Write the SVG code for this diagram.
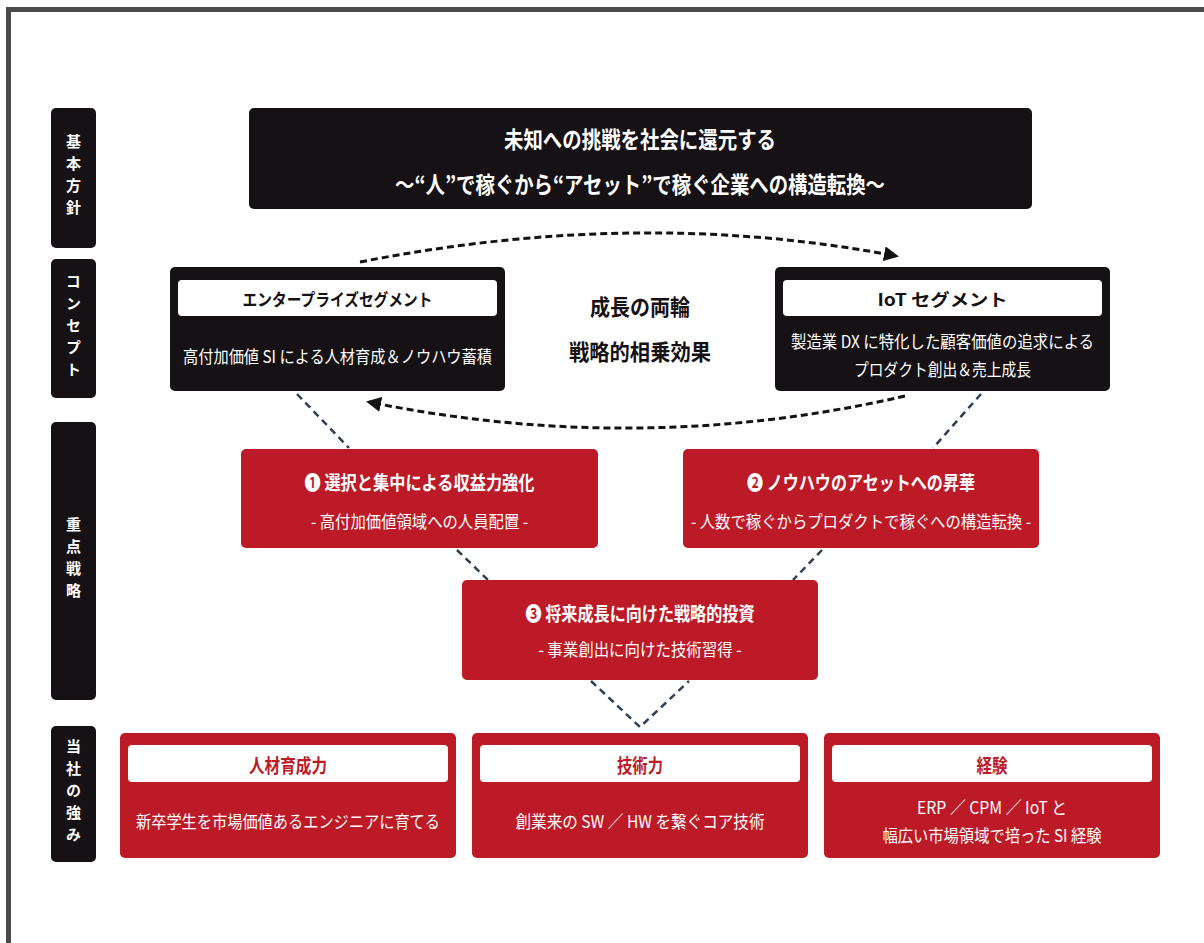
<svg xmlns="http://www.w3.org/2000/svg" width="1204" height="943" viewBox="0 0 1204 943">
<defs>
<style>
text{font-family:"Noto Sans CJK JP","Noto Sans",sans-serif;dominant-baseline:central;text-anchor:middle}
.blk{fill:#161114}
.red{fill:#bd1a27}
.wl{fill:#ffffff}
.side{fill:#ffffff;font-size:15px;font-weight:700;writing-mode:vertical-rl;letter-spacing:7px}
.t1{fill:#ffffff;font-size:23px;font-weight:700}
.seg{fill:#161114;font-size:17px;font-weight:700}
.body{fill:#ffffff;font-size:17px;font-weight:400}
.mid{fill:#161114;font-size:22px;font-weight:700}
.rt{fill:#ffffff;font-size:19px;font-weight:700}
.rs{fill:#ffffff;font-size:17px;font-weight:400}
.st{fill:#bd1a27;font-size:19px;font-weight:700}
.arr{fill:none;stroke:#161114;stroke-width:3;stroke-dasharray:7 4}
.blue{fill:none;stroke:#2b3f55;stroke-width:2.5;stroke-dasharray:7 5}
</style>
<marker id="ah" viewBox="0 0 10 10" refX="8" refY="5" markerWidth="5" markerHeight="5" orient="auto" markerUnits="strokeWidth">
<path d="M0,0 L10,5 L0,10 z" fill="#161114"/>
</marker>
</defs>
<rect x="0" y="0" width="1204" height="943" fill="#ffffff"/>
<path d="M8.5,943 V9.5 H1204" fill="none" stroke="#4a4a4a" stroke-width="5"/>

<g id="side-labels">
<g id="label-kihon"><rect class="blk" x="51" y="108" width="45" height="140" rx="5"/><text class="side" x="73.5" y="178">基本方針</text></g>
<g id="label-concept"><rect class="blk" x="51" y="259" width="45" height="139" rx="5"/><text class="side" x="73.5" y="328.5">コンセプト</text></g>
<g id="label-juten"><rect class="blk" x="51" y="422" width="45" height="278" rx="5"/><text class="side" x="73.5" y="561">重点戦略</text></g>
<g id="label-tsuyomi"><rect class="blk" x="51" y="726" width="45" height="136" rx="5"/><text class="side" x="73.5" y="794">当社の強み</text></g>
</g>

<g id="connectors">
<path class="arr" d="M360,262 Q640,207 896,256" marker-end="url(#ah)"/>
<path class="arr" d="M905,396 Q640,457 369,402" marker-end="url(#ah)"/>
<line class="blue" x1="297" y1="394" x2="349" y2="448"/>
<line class="blue" x1="981" y1="394" x2="933" y2="448"/>
<line class="blue" x1="457" y1="550" x2="488" y2="580"/>
<line class="blue" x1="822" y1="550" x2="793" y2="580"/>
<polyline class="blue" points="591,681 640,727 689,681"/>
</g>

<g id="node-policy">
<rect class="blk" x="249" y="108" width="783" height="101" rx="5"/>
<text class="t1" x="640" y="138" textLength="272" lengthAdjust="spacingAndGlyphs">未知への挑戦を社会に還元する</text>
<text class="t1" x="640" y="183" textLength="490" lengthAdjust="spacingAndGlyphs">～“人”で稼ぐから“アセット”で稼ぐ企業への構造転換～</text>
</g>

<g id="node-enterprise">
<rect class="blk" x="170" y="267" width="335" height="124" rx="5"/>
<rect class="wl" x="178" y="280" width="319" height="36" rx="4"/>
<text class="seg" x="337.5" y="298" textLength="190" lengthAdjust="spacingAndGlyphs">エンタープライズセグメント</text>
<text class="body" x="337.5" y="355" textLength="309" lengthAdjust="spacingAndGlyphs">高付加価値 SI による人材育成＆ノウハウ蓄積</text>
</g>

<g id="node-center">
<text class="mid" x="640" y="305" textLength="100" lengthAdjust="spacingAndGlyphs">成長の両輪</text>
<text class="mid" x="640" y="350" textLength="142" lengthAdjust="spacingAndGlyphs">戦略的相乗効果</text>
</g>

<g id="node-iot">
<rect class="blk" x="775" y="267" width="335" height="124" rx="5"/>
<rect class="wl" x="783" y="280" width="319" height="36" rx="4"/>
<text class="seg" x="942.5" y="298" textLength="130" lengthAdjust="spacingAndGlyphs">IoT セグメント</text>
<text class="body" x="942.5" y="340" textLength="303" lengthAdjust="spacingAndGlyphs">製造業 DX に特化した顧客価値の追求による</text>
<text class="body" x="942.5" y="368" textLength="177" lengthAdjust="spacingAndGlyphs">プロダクト創出＆売上成長</text>
</g>

<g id="node-strategy1">
<rect class="red" x="241" y="449" width="357" height="99" rx="5"/>
<text class="rt" x="419.5" y="481" textLength="230" lengthAdjust="spacingAndGlyphs">❶ 選択と集中による収益力強化</text>
<text class="rs" x="419.5" y="520" textLength="217" lengthAdjust="spacingAndGlyphs">- 高付加価値領域への人員配置 -</text>
</g>

<g id="node-strategy2">
<rect class="red" x="683" y="449" width="356" height="99" rx="5"/>
<text class="rt" x="861" y="481" textLength="228" lengthAdjust="spacingAndGlyphs">❷ ノウハウのアセットへの昇華</text>
<text class="rs" x="861" y="520" textLength="340" lengthAdjust="spacingAndGlyphs">- 人数で稼ぐからプロダクトで稼ぐへの構造転換 -</text>
</g>

<g id="node-strategy3">
<rect class="red" x="462" y="580" width="356" height="100" rx="5"/>
<text class="rt" x="640" y="612" textLength="229" lengthAdjust="spacingAndGlyphs">❸ 将来成長に向けた戦略的投資</text>
<text class="rs" x="640" y="648" textLength="203" lengthAdjust="spacingAndGlyphs">- 事業創出に向けた技術習得 -</text>
</g>

<g id="node-jinzai">
<rect class="red" x="120" y="733" width="336" height="125" rx="5"/>
<rect class="wl" x="128" y="745" width="320" height="37" rx="4"/>
<text class="st" x="288" y="764" textLength="78" lengthAdjust="spacingAndGlyphs">人材育成力</text>
<text class="body" x="288" y="820" textLength="304" lengthAdjust="spacingAndGlyphs">新卒学生を市場価値あるエンジニアに育てる</text>
</g>

<g id="node-gijutsu">
<rect class="red" x="472" y="733" width="336" height="125" rx="5"/>
<rect class="wl" x="480" y="745" width="320" height="37" rx="4"/>
<text class="st" x="640" y="764" textLength="46" lengthAdjust="spacingAndGlyphs">技術力</text>
<text class="body" x="640" y="820" textLength="249" lengthAdjust="spacingAndGlyphs">創業来の SW ／ HW を繋ぐコア技術</text>
</g>

<g id="node-keiken">
<rect class="red" x="824" y="733" width="336" height="125" rx="5"/>
<rect class="wl" x="832" y="745" width="320" height="37" rx="4"/>
<text class="st" x="992" y="764" textLength="31" lengthAdjust="spacingAndGlyphs">経験</text>
<text class="body" x="992" y="806" textLength="150" lengthAdjust="spacingAndGlyphs">ERP ／ CPM ／ IoT と</text>
<text class="body" x="992" y="834" textLength="219" lengthAdjust="spacingAndGlyphs">幅広い市場領域で培った SI 経験</text>
</g>
</svg>
